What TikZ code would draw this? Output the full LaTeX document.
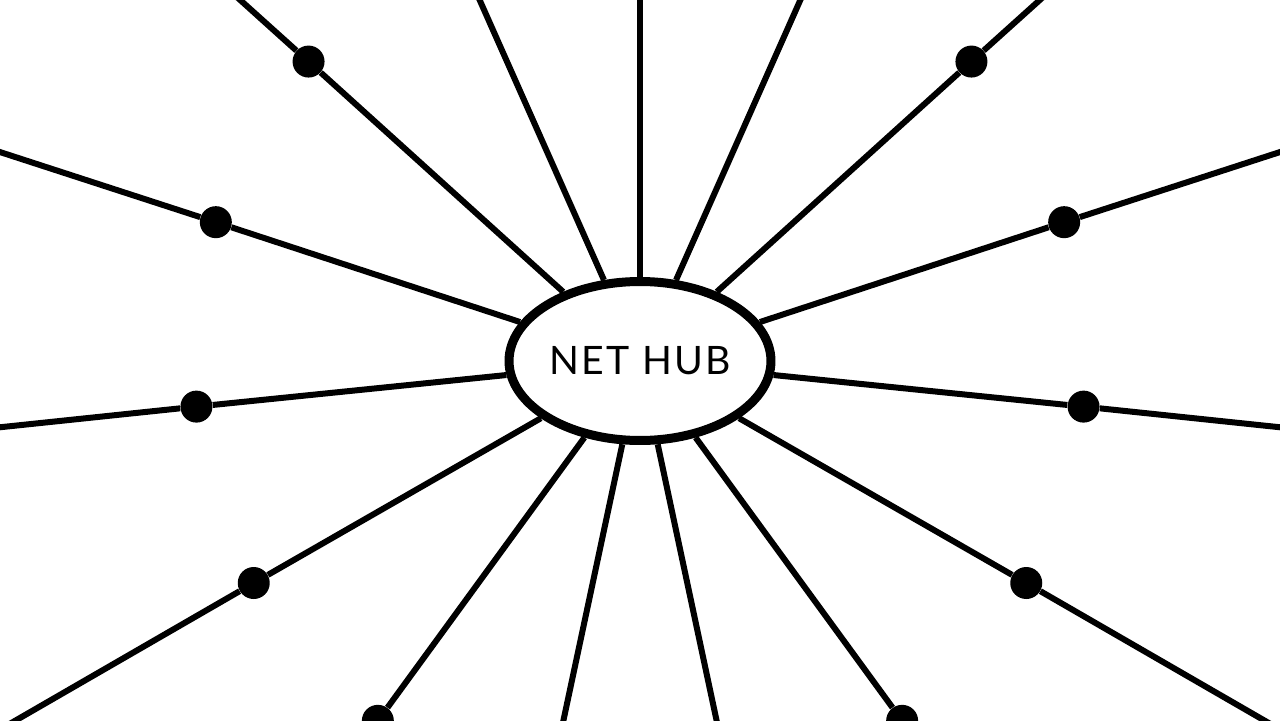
\documentclass[tikz,border=0pt]{standalone}
\usepackage{fontspec}
\setmainfont{Lato}
\newfontfamily\hubfont[LetterSpace=6]{Lato}
\usetikzlibrary{shapes.geometric}
\begin{document}
\begin{tikzpicture}[x=0.02cm,y=0.02cm,
    hub/.style={ellipse,draw,line width=0.18cm,fill=white,minimum width=5.24cm,minimum height=3.18cm,inner sep=0pt,font=\hubfont\fontsize{22.3}{26}\selectfont},
    spoke/.style={line width=0.12cm},
    dot/.style={circle,fill,inner sep=0pt,minimum size=0.64cm}]
    \useasboundingbox (-640,-360) rectangle (640,360);
    \clip (-640,-360) rectangle (640,360);
    \node [hub] (hub) at (0,-1) {NET HUB};
    \foreach \i [evaluate=\i as \a using int(90+24*\i)] in {0,...,14}{
        \node [dot] (dot\i) at (\a:446) {};
        \coordinate (end\i) at (\a:900);
        \draw [spoke] (hub.\a) -- (dot\i) -- (end\i);
    }
\end{tikzpicture}
\end{document}
